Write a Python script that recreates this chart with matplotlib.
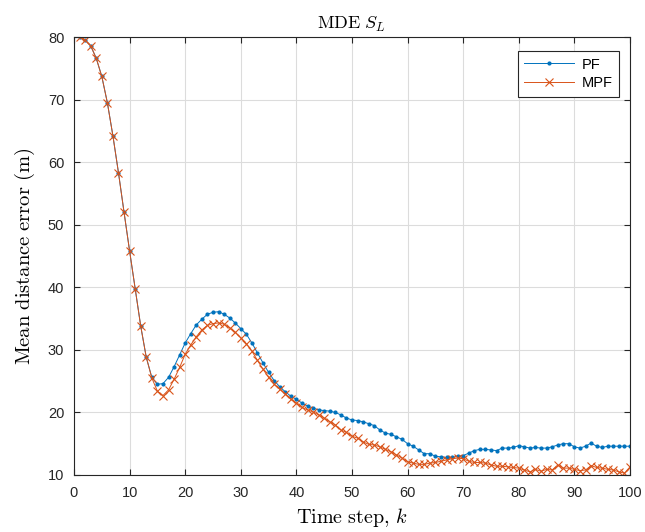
import matplotlib
matplotlib.use("Agg")
import matplotlib.pyplot as plt
import numpy as np

plt.rcParams["font.family"] = ["Liberation Sans", "DejaVu Sans"]
plt.rcParams["mathtext.fontset"] = "cm"

# Mean distance error per time step k = 1..100
steps = np.arange(1, 101)

pf_error = [
    80.0, 79.5, 78.6, 76.6, 73.7, 69.5, 64.2, 58.3, 52.0, 45.8,
    39.8, 33.8, 28.8, 25.6, 24.5, 24.6, 25.6, 27.3, 29.2, 31.1,
    32.6, 34.0, 34.9, 35.7, 36.0, 36.1, 35.7, 35.1, 34.3, 33.4,
    32.5, 31.1, 29.5, 27.9, 26.4, 25.1, 24.1, 23.3, 22.6, 22.1,
    21.5, 21.0, 20.7, 20.4, 20.3, 20.2, 20.0, 19.6, 19.1, 18.8,
    18.7, 18.5, 18.2, 17.9, 17.2, 16.7, 16.5, 16.1, 15.7, 15.0,
    14.6, 14.0, 13.4, 13.4, 13.0, 12.9, 12.8, 12.8, 13.0, 13.1,
    13.5, 13.9, 14.1, 14.1, 14.0, 13.9, 14.3, 14.3, 14.4, 14.7,
    14.5, 14.3, 14.4, 14.3, 14.3, 14.5, 14.8, 15.0, 15.0, 14.5,
    14.3, 14.6, 15.1, 14.6, 14.4, 14.6, 14.6, 14.6, 14.6, 14.6,
]

mpf_error = [
    80.0, 79.5, 78.6, 76.6, 73.7, 69.5, 64.2, 58.3, 52.0, 45.8,
    39.8, 33.8, 28.8, 25.5, 23.4, 22.7, 23.6, 25.3, 27.2, 29.3,
    30.8, 32.1, 33.2, 33.9, 34.2, 34.3, 34.1, 33.5, 32.8, 31.9,
    31.0, 29.8, 28.3, 26.9, 25.6, 24.5, 23.7, 23.0, 22.1, 21.5,
    20.8, 20.4, 20.1, 19.6, 19.1, 18.5, 18.0, 17.2, 16.8, 16.2,
    15.9, 15.3, 14.9, 14.8, 14.5, 14.1, 13.7, 13.2, 12.7, 12.1,
    11.9, 11.7, 11.7, 11.9, 12.0, 12.2, 12.4, 12.6, 12.7, 12.6,
    12.2, 12.0, 12.0, 11.9, 11.6, 11.4, 11.4, 11.3, 11.2, 11.1,
    10.8, 10.5, 10.9, 10.6, 10.9, 10.8, 11.6, 11.1, 11.1, 10.9,
    10.7, 10.8, 11.5, 11.2, 11.1, 10.9, 10.8, 10.5, 10.3, 11.3,
]

x_ticks = np.arange(0, 101, 10)
y_ticks = np.arange(10, 81, 10)

fig = plt.figure(figsize=(6.45, 5.32), dpi=100)
ax = fig.add_axes([74 / 645, 1 - 475 / 532, 556 / 645, 438 / 532])

ax.plot(steps, pf_error, color="#0072BD", linewidth=0.7, marker=".",
        markersize=4, label="PF")
ax.plot(steps, mpf_error, color="#D95319", linewidth=0.7, marker="x",
        markersize=6, markeredgewidth=0.8, label="MPF")

ax.set_xlim(0, 100)
ax.set_ylim(10, 80)
ax.set_xticks(x_ticks)
ax.set_yticks(y_ticks)
ax.tick_params(direction="in", top=True, right=True, length=4,
               width=0.8, colors="#262626", labelsize=10.5)
ax.tick_params(axis="x", pad=8)
ax.tick_params(axis="y", pad=7)
ax.grid(True, color="#DCDCDC", linewidth=0.8)
ax.set_axisbelow(True)
for spine in ax.spines.values():
    spine.set_color("#262626")
    spine.set_linewidth(0.8)

ax.set_title(r"$\mathrm{MDE}\ S_L$", fontsize=13, pad=6)
ax.set_xlabel(r"$\mathrm{Time\ step,}\,k$", fontsize=14.5, labelpad=4)
ax.set_ylabel(r"$\mathrm{Mean\ distance\ error\ (m)}$", fontsize=14.8, labelpad=8)

leg = ax.legend(loc="upper right", bbox_to_anchor=(0.98, 0.968),
                borderaxespad=0, fontsize=10.5, fancybox=False, framealpha=1,
                edgecolor="#262626", handlelength=3.4,
                borderpad=0.45, labelspacing=0.3, handletextpad=0.5)
leg.get_frame().set_linewidth(0.8)

fig.savefig("out.png", dpi=100, facecolor="white")
